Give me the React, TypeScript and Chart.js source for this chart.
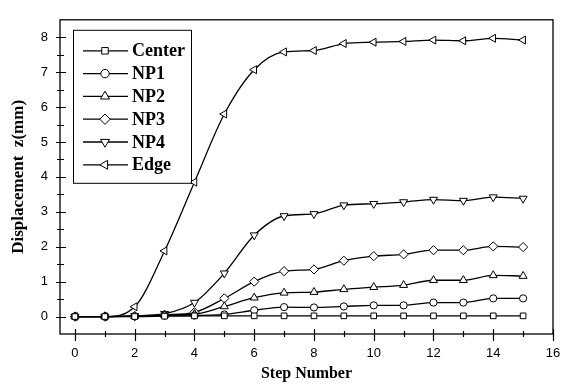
import React, { useEffect, useRef } from 'react';
import { Chart, registerables } from 'chart.js';
import { drawPoint } from 'chart.js/helpers';

Chart.register(...registerables);

const steps = [0, 1, 2, 3, 4, 5, 6, 7, 8, 9, 10, 11, 12, 13, 14, 15];
const seriesNames = ['Center', 'NP1', 'NP2', 'NP3', 'NP4', 'Edge'];
const centerValues = [0, 0, 0, 0.01, 0.02, 0.02, 0.02, 0.02, 0.02, 0.02, 0.02, 0.02, 0.02, 0.02, 0.02, 0.02];
const np1Values = [0, 0, 0.01, 0.03, 0.03, 0.06, 0.18, 0.27, 0.26, 0.29, 0.32, 0.32, 0.4, 0.4, 0.52, 0.52];
const np2Values = [0, 0, 0.01, 0.04, 0.07, 0.29, 0.54, 0.68, 0.7, 0.78, 0.84, 0.9, 1.04, 1.04, 1.18, 1.16];
const np3Values = [0, 0, 0.01, 0.05, 0.12, 0.52, 1.0, 1.3, 1.35, 1.6, 1.73, 1.78, 1.9, 1.9, 2.01, 1.99];
const np4Values = [0, 0, 0.02, 0.08, 0.4, 1.24, 2.33, 2.88, 2.94, 3.19, 3.23, 3.28, 3.35, 3.32, 3.42, 3.38];
const edgeValues = [0, 0, 0.28, 1.88, 3.85, 5.8, 7.07, 7.58, 7.62, 7.82, 7.86, 7.88, 7.92, 7.9, 7.97, 7.92];
const allSeries = [centerValues, np1Values, np2Values, np3Values, np4Values, edgeValues];

const xTickValues = [0, 2, 4, 6, 8, 10, 12, 14, 16];
const xMinorValues = [1, 3, 5, 7, 9, 11, 13, 15];
const yTickValues = [0, 1, 2, 3, 4, 5, 6, 7, 8];
const yMinorValues = [0.5, 1.5, 2.5, 3.5, 4.5, 5.5, 6.5, 7.5];

const xTitle = 'Step Number';
const yTitle = 'Displacement  z(mm)';

const markerStyles = ['rect', 'circle', 'triangle', 'rectRot', 'triangle', 'triangle'];
const markerRotations = [0, 0, 0, 0, 180, -90];
const markerRadii = [4, 3.6, 4.6, 4.6, 4.6, 4.6];

const SERIF = '"Liberation Serif", "Times New Roman", serif';
const SANS = '"Liberation Sans", Arial, sans-serif';

const framePlugin = {
  id: 'frameTicksLegend',
  afterDatasetsDraw(chart: any) {
    const { ctx, chartArea } = chart;
    const xs = chart.scales.x;
    const ys = chart.scales.y;
    const { left, right, top, bottom } = chartArea;
    ctx.save();
    ctx.strokeStyle = '#000';
    ctx.lineWidth = 1.3;
    ctx.strokeRect(left, top, right - left, bottom - top);

    ctx.lineWidth = 1.2;
    ctx.beginPath();
    xTickValues.forEach((v) => {
      const px = Math.round(xs.getPixelForValue(v)) + 0.5;
      ctx.moveTo(px, bottom - 5);
      ctx.lineTo(px, bottom + 7);
    });
    xMinorValues.forEach((v) => {
      const px = Math.round(xs.getPixelForValue(v)) + 0.5;
      ctx.moveTo(px, bottom - 3);
      ctx.lineTo(px, bottom + 3);
    });
    yTickValues.forEach((v) => {
      const py = Math.round(ys.getPixelForValue(v)) + 0.5;
      ctx.moveTo(left - 4, py);
      ctx.lineTo(left + 6, py);
    });
    yMinorValues.forEach((v) => {
      const py = Math.round(ys.getPixelForValue(v)) + 0.5;
      ctx.moveTo(left - 3, py);
      ctx.lineTo(left + 4, py);
    });
    ctx.stroke();

    // legend box
    const x0 = left + 13;
    const y0 = top + 10;
    const w = 118;
    const h = 153;
    ctx.fillStyle = '#fff';
    ctx.fillRect(x0, y0, w, h);
    ctx.lineWidth = 1;
    ctx.strokeRect(x0 + 0.5, y0 + 0.5, w, h);
    chart.data.datasets.forEach((ds: any, i: number) => {
      const y = y0 + 21 + i * 22.8;
      ctx.strokeStyle = '#000';
      ctx.lineWidth = 1.3;
      ctx.beginPath();
      ctx.moveTo(x0 + 10, y);
      ctx.lineTo(x0 + 55, y);
      ctx.stroke();
      ctx.fillStyle = '#fff';
      ctx.lineWidth = 1;
      drawPoint(ctx, {
        pointStyle: markerStyles[i],
        rotation: markerRotations[i],
        radius: markerRadii[i] + 0.6,
        borderWidth: 1,
      } as any, x0 + 32, y);
      ctx.fillStyle = '#000';
      ctx.font = 'bold 18px ' + SERIF;
      ctx.textAlign = 'left';
      ctx.textBaseline = 'middle';
      ctx.fillText(ds.label, x0 + 59, y + 1);
    });
    ctx.restore();
  },
};

export default function App() {
  const ref = useRef<HTMLCanvasElement | null>(null);
  useEffect(() => {
    document.body.style.margin = '0';
    const canvas = ref.current;
    if (!canvas) return;
    const chart = new Chart(canvas, {
      type: 'line',
      data: {
        datasets: seriesNames.map((name, i) => ({
          label: name,
          data: steps.map((s, j) => ({ x: s, y: allSeries[i][j] })),
          borderColor: '#000',
          borderWidth: 1.3,
          backgroundColor: '#fff',
          pointBackgroundColor: '#fff',
          pointBorderColor: '#000',
          pointBorderWidth: 1,
          pointStyle: markerStyles[i] as any,
          pointRotation: markerRotations[i],
          pointRadius: markerRadii[i],
          cubicInterpolationMode: 'monotone',
          fill: false,
        })),
      },
      options: {
        animation: false,
        responsive: false,
        devicePixelRatio: 1,
        layout: { padding: { top: 7, right: 20, left: 0, bottom: 0 } },
        plugins: { legend: { display: false }, tooltip: { enabled: false } },
        scales: {
          x: {
            type: 'linear',
            min: -0.5,
            max: 16,
            afterBuildTicks: (s: any) => {
              s.ticks = xTickValues.map((value) => ({ value }));
            },
            afterFit: (s: any) => {
              s.height = 51;
            },
            grid: { display: false, drawTicks: false },
            border: { display: false },
            ticks: {
              color: '#000',
              padding: 12,
              maxRotation: 0,
              autoSkip: false,
              font: { family: SANS, size: 13 },
            },
            title: {
              display: true,
              text: xTitle,
              color: '#000',
              font: { family: SERIF, size: 16, weight: 'bold' },
              padding: { top: 0, bottom: 2 },
            },
          },
          y: {
            type: 'linear',
            min: -0.5,
            max: 8.5,
            afterBuildTicks: (s: any) => {
              s.ticks = yTickValues.map((value) => ({ value }));
            },
            afterFit: (s: any) => {
              s.width = 60;
            },
            grid: { display: false, drawTicks: false },
            border: { display: false },
            ticks: {
              color: '#000',
              padding: 12,
              autoSkip: false,
              font: { family: SANS, size: 13 },
            },
            title: {
              display: true,
              text: yTitle,
              color: '#000',
              font: { family: SERIF, size: 17, weight: 'bold' },
              padding: { top: 8, bottom: 0 },
            },
          },
        },
      },
      plugins: [framePlugin],
    });
    return () => chart.destroy();
  }, []);
  return (
    <div style={{ width: 573, height: 385, background: '#fff' }}>
      <canvas ref={ref} width={573} height={385} />
    </div>
  );
}
